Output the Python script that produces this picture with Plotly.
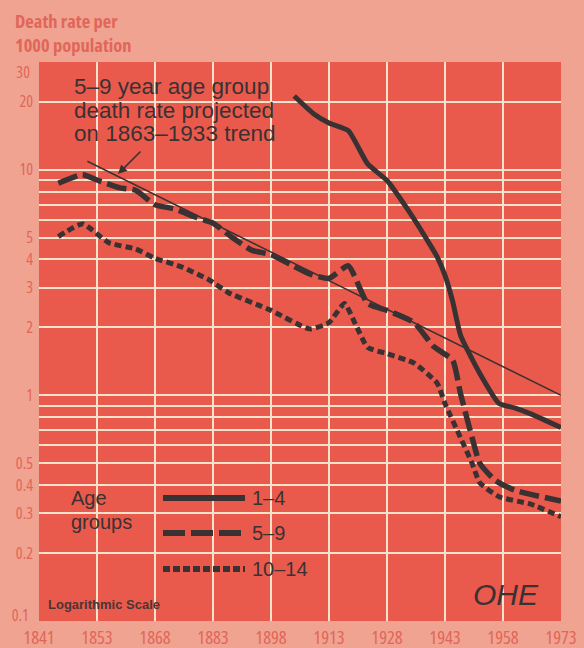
import numpy as np
import plotly.graph_objects as go

# Period labels along the bottom (equally spaced on the chart)
tick_years = [1841, 1853, 1868, 1883, 1898, 1913, 1928, 1943, 1958, 1973]

# Death rate per 1000 population, ages 1-4
years_1_4 = [1904, 1909, 1913, 1918, 1923, 1928, 1933, 1938, 1941, 1943, 1945,
             1947, 1952, 1957, 1961, 1965, 1973]
rate_1_4 = [21.2, 17.7, 16.1, 14.9, 10.6, 8.95, 6.8, 5.0, 4.1, 3.4, 2.6,
            1.85, 1.25, 0.92, 0.88, 0.83, 0.72]

# Ages 5-9
years_5_9 = [1845, 1850, 1853, 1859, 1863, 1868, 1873, 1878, 1883, 1888, 1893,
             1898, 1903, 1908, 1913, 1918, 1923, 1928, 1935, 1940, 1945, 1947,
             1950, 1952, 1956, 1961, 1973]
rate_5_9 = [8.7, 9.5, 9.0, 8.3, 8.1, 7.0, 6.7, 6.2, 5.8, 5.0, 4.4,
            4.2, 3.8, 3.45, 3.3, 3.75, 2.55, 2.38, 2.1, 1.65, 1.43, 1.02,
            0.65, 0.5, 0.42, 0.38, 0.34]

# Ages 10-14
years_10_14 = [1845, 1850, 1856, 1863, 1868, 1875, 1882, 1887, 1898, 1908, 1913,
               1917, 1920, 1923, 1928, 1935, 1941, 1943, 1947, 1950, 1952, 1957,
               1965, 1973]
rate_10_14 = [5.05, 5.75, 4.75, 4.45, 4.05, 3.7, 3.25, 2.85, 2.38, 1.97, 2.1,
              2.55, 2.04, 1.63, 1.53, 1.39, 1.13, 0.92, 0.65, 0.5, 0.41, 0.355,
              0.33, 0.29]

# 5-9 rate projected on the 1863-1933 trend
years_trend = [1851, 1973]
rate_trend = [10.9, 1.0]

y_labels = [0.2, 0.3, 0.4, 0.5, 1, 2, 3, 4, 5, 10, 20]
y_grid = [0.2, 0.3, 0.4, 0.5, 0.6, 0.7, 0.8, 0.9,
          1, 2, 3, 4, 5, 6, 7, 8, 9, 10, 20]

BG = "#f0a391"
PLOT_BG = "#ea5a4c"
GRID = "#f7e3cc"
LABEL = "#e1665a"
INK = "#3a3133"
NARROW = "Open Sans, Liberation Sans Narrow, sans-serif"
SANS = "Liberation Sans, Arial, sans-serif"

W, H = 584, 648
L, R, T, B = 39, 23, 62, 27
PW, PH = W - L - R, H - T - B


def pos(years):
    """Place years on the equally spaced period axis."""
    return np.interp(years, tick_years, np.arange(len(tick_years)))


def px(x):
    return (x - L) / PW


def py(y):
    return (H - B - y) / PH


fig = go.Figure()

fig.add_trace(go.Scatter(
    x=pos(years_trend), y=rate_trend, mode="lines",
    line=dict(color=INK, width=1.5), hoverinfo="skip"))

fig.add_trace(go.Scatter(
    x=pos(years_10_14), y=rate_10_14, mode="lines", name="10–14",
    line=dict(color=INK, width=5, dash="7px,4px", shape="spline", smoothing=0.5)))

fig.add_trace(go.Scatter(
    x=pos(years_5_9), y=rate_5_9, mode="lines", name="5–9",
    line=dict(color=INK, width=5.5, dash="20px,6px", shape="spline", smoothing=0.5)))

fig.add_trace(go.Scatter(
    x=pos(years_1_4), y=rate_1_4, mode="lines", name="1–4",
    line=dict(color=INK, width=5, shape="spline", smoothing=0.5)))

annotations = []


def text(x, y, s, size, color=INK, family=SANS, xanchor="left", yanchor="middle", **kw):
    annotations.append(dict(
        x=px(x), y=py(y), xref="paper", yref="paper", text=s, showarrow=False,
        xanchor=xanchor, yanchor=yanchor,
        font=dict(size=size, color=color, family=family), **kw))


# Axis title
text(13, 6, "<b>Death rate per<br>1000 population</b>", 18.5, LABEL, NARROW,
     yanchor="top", align="left")

# End labels of the log axis
text(34, 72, "30", 16, LABEL, NARROW, xanchor="right")
text(34, 615, "0.1", 16, LABEL, NARROW, xanchor="right")

# Projection note
text(72, 87, "5–9 year age group", 22.5)
text(72, 110.5, "death rate projected", 22.5)
text(72, 134, "on 1863–1933 trend", 22.5)
annotations.append(dict(
    x=px(118), y=py(174), xref="paper", yref="paper", text="",
    showarrow=True, ax=24, ay=-24, arrowhead=2, arrowsize=1.2,
    arrowwidth=1.5, arrowcolor=INK))

# Legend
text(69, 498, "Age", 20)
text(69, 522, "groups", 20)
legend_rows = [("1–4", 498, "solid"), ("5–9", 533, "22px,6px"), ("10–14", 569, "7px,3px")]
shapes = []
for label, yy, dash in legend_rows:
    shapes.append(dict(
        type="line", xref="paper", yref="paper",
        x0=px(163), x1=px(245), y0=py(yy), y1=py(yy),
        line=dict(color=INK, width=6, dash=dash)))
    text(250, yy, label, 20)

text(46, 604, "<b>Logarithmic Scale</b>", 13, "#4a3536")
text(506, 594, "<i>OHE</i>", 30, INK, SANS, xanchor="center")

fig.update_layout(
    width=W, height=H,
    margin=dict(l=L, r=R, t=T, b=B, pad=0, autoexpand=False),
    paper_bgcolor=BG, plot_bgcolor=PLOT_BG,
    showlegend=False,
    annotations=annotations, shapes=shapes,
    xaxis=dict(
        range=[0, len(tick_years) - 1], automargin=False,
        tickmode="array", tickvals=list(range(len(tick_years))),
        ticktext=[str(y) for y in tick_years],
        tickfont=dict(size=18.5, color=LABEL, family=NARROW),
        ticks="", ticklabelstandoff=3,
        showgrid=False, zeroline=False, showline=False,
        minor=dict(tickmode="array", tickvals=list(range(1, len(tick_years) - 1)),
                   showgrid=True, gridcolor=GRID, gridwidth=2, ticks=""),
        fixedrange=True),
    yaxis=dict(
        type="log", range=[np.log10(0.1), np.log10(30)], automargin=False,
        tickmode="array", tickvals=y_labels,
        ticktext=[("%g" % v) for v in y_labels],
        tickfont=dict(size=16, color=LABEL, family=NARROW),
        ticks="", ticklabelstandoff=5,
        showgrid=False, zeroline=False, showline=False,
        minor=dict(tickmode="array", tickvals=y_grid,
                   showgrid=True, gridcolor=GRID, gridwidth=2, ticks=""),
        fixedrange=True),
)

# Condensed lettering for the axis labels and axis title
condense = """
var gd = document.getElementById('{plot_id}');
function condense() {
  gd.querySelectorAll('.xtick text, .ytick text').forEach(function (t) {
    t.style.fontStretch = '75%';
  });
  gd.querySelectorAll('.annotation-text').forEach(function (t) {
    if ((t.style.fontFamily || '').indexOf('Open Sans') >= 0) {
      t.style.fontStretch = '75%';
    }
  });
}
condense();
gd.on('plotly_afterplot', condense);
"""

fig.write_html("out.html", post_script=condense)
